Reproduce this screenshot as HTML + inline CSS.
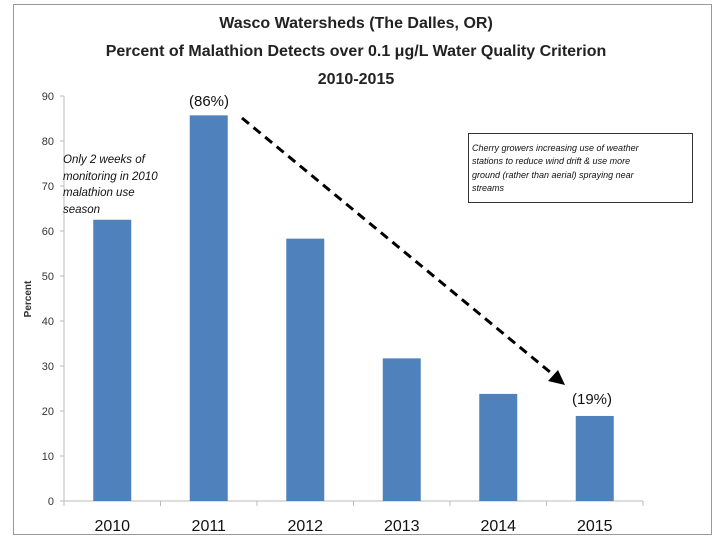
<!DOCTYPE html>
<html><head><meta charset="utf-8"><style>
body{margin:0;background:#fff;}
svg text{font-family:"Liberation Sans","DejaVu Sans",sans-serif;}
</style></head><body>
<svg width="720" height="540" viewBox="0 0 720 540" xmlns="http://www.w3.org/2000/svg">
<rect x="13.5" y="4.5" width="698" height="530" fill="#fff" stroke="#999"/>
<g font-weight="bold" font-size="16" text-anchor="middle" fill="#222">
<text x="356" y="28">Wasco Watersheds (The Dalles, OR)</text>
<text x="356" y="62" dy="-6">Percent of Malathion Detects over 0.1 μg/L Water Quality Criterion</text>
<text x="356" y="84">2010-2015</text>
</g>
<text transform="translate(31,299) rotate(-90)" text-anchor="middle" font-size="10" font-weight="bold" fill="#333">Percent</text>
<g id="axes"></g>
<g id="bars"></g>
<text x="209" y="106" text-anchor="middle" font-size="15" fill="#111">(86%)</text>
<text x="592" y="404" text-anchor="middle" font-size="15" fill="#111">(19%)</text>
<g font-size="11.5" font-style="italic" fill="#111">
<text x="63" y="163">Only 2 weeks of</text>
<text x="63" y="180">monitoring in 2010</text>
<text x="63" y="196">malathion use</text>
<text x="63" y="213">season</text>
</g>
<rect x="468.5" y="133.5" width="224" height="69" fill="#fff" stroke="#333"/>
<g font-size="9" font-style="italic" fill="#111">
<text x="472" y="151">Cherry growers increasing use of weather</text>
<text x="472" y="164">stations to reduce wind drift &amp; use more</text>
<text x="472" y="178">ground (rather than aerial) spraying near</text>
<text x="472" y="191">streams</text>
</g>
<line x1="242" y1="118" x2="556" y2="377" stroke="#000" stroke-width="3" stroke-dasharray="9,6"/>
<polygon points="565,385 548,381 558,370" fill="#000"/>
</svg>
<script>
const categories=["2010","2011","2012","2013","2014","2015"];
const values=[62.5,85.7,58.3,31.7,23.8,18.9];
const yTicks=[0,10,20,30,40,50,60,70,80,90];
const NS="http://www.w3.org/2000/svg";
const x0=64,x1=643,yBase=501,yTop=96,yMax=90;
const step=(x1-x0)/categories.length;
function yScale(v){return yBase-(v/yMax)*(yBase-yTop);}
function xCenter(i){return x0+step*(i+0.5);}
function mk(t,a,p){const e=document.createElementNS(NS,t);for(const k in a)e.setAttribute(k,a[k]);p.appendChild(e);return e;}
const ax=document.getElementById('axes');
const yl=mk('line',{x1:x0,y1:yTop,x2:x0,y2:yBase,stroke:'#bbb'},ax);


const xl=mk('line',{x1:x0,y1:yBase,x2:x1,y2:yBase,stroke:'#bbb'},ax);


yTicks.forEach(v=>{const y=yScale(v);
mk('line',{x1:x0-4,y1:y,x2:x0,y2:y,stroke:'#bbb'},ax);
const t=mk('text',{x:x0-10,y:y+4,'text-anchor':'end','font-size':11,fill:'#333'},ax);t.textContent=v;

});
for(let i=0;i<=categories.length;i++){const x=x0+step*i;mk('line',{x1:x,y1:yBase,x2:x,y2:yBase+5,stroke:'#bbb'},ax);}
const bg=document.getElementById('bars');
categories.forEach((c,i)=>{const cx=xCenter(i),w=38,y=yScale(values[i]);
const r=mk('rect',{x:cx-w/2,y:y,width:w,height:yBase-y,fill:'#4f81bd'},bg);


const t=mk('text',{x:cx,y:531,'text-anchor':'middle','font-size':16,fill:'#111'},bg);t.textContent=c;

});
</script>
</body></html>
